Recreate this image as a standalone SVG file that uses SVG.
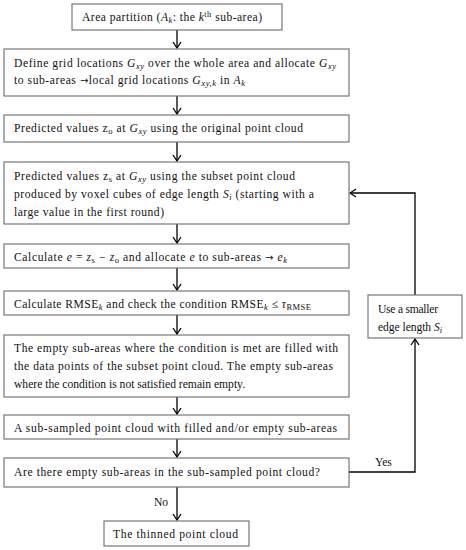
<svg xmlns="http://www.w3.org/2000/svg" width="466" height="550" viewBox="0 0 466 550">
<style>
.box{fill:#fff;stroke:#6b6b6b;stroke-width:1.1}
.t{font-family:"Liberation Serif","Times New Roman",serif;font-size:11.6px;fill:#111}
.i{font-style:italic}
.s{font-size:8.5px}
.ar{font-family:"DejaVu Sans",sans-serif;font-size:10px}
.c{fill:none;stroke:#000;stroke-width:1.3}
</style>
<defs>
<marker id="ah" viewBox="0 0 8 10" refX="7" refY="5" markerWidth="8" markerHeight="10" markerUnits="userSpaceOnUse" orient="auto">
<path d="M1,1 L7,5 L1,9" fill="none" stroke="#000" stroke-width="1.3"/>
</marker>
</defs>
<rect width="466" height="550" fill="#fff"/>
<g id="connectors">
<path class="c" d="M177,30 V48" marker-end="url(#ah)"/>
<path class="c" d="M177,96 V114" marker-end="url(#ah)"/>
<path class="c" d="M177,142 V161" marker-end="url(#ah)"/>
<path class="c" d="M177,224 V243" marker-end="url(#ah)"/>
<path class="c" d="M177,268 V290" marker-end="url(#ah)"/>
<path class="c" d="M177,315 V334" marker-end="url(#ah)"/>
<path class="c" d="M177,397 V414" marker-end="url(#ah)"/>
<path class="c" d="M177,439 V457" marker-end="url(#ah)"/>
<path class="c" d="M177,487 V520" marker-end="url(#ah)"/>
<path class="c" d="M349,472 H415 V339" marker-end="url(#ah)"/>
<path class="c" d="M415,295 V193 H350" marker-end="url(#ah)"/>
<text class="t" x="375" y="466">Yes</text>
<text class="t" x="154" y="506">No</text>
</g>
<g id="n1">
<rect class="box" x="72" y="4" width="210" height="26"/>
<text class="t" x="82" y="21" textLength="180">Area partition (<tspan class="i">A</tspan><tspan class="i s" dy="2">k</tspan><tspan dy="-2">: the </tspan><tspan class="i">k</tspan><tspan class="s" dy="-4">th</tspan><tspan dy="4"> sub-area)</tspan></text>
</g>
<g id="n2">
<rect class="box" x="4" y="49" width="345" height="47"/>
<text class="t" x="14" y="67" textLength="322">Define grid locations  <tspan class="i">G</tspan><tspan class="i s" dy="2">xy</tspan><tspan dy="-2"> over the whole area and allocate </tspan><tspan class="i">G</tspan><tspan class="i s" dy="2">xy</tspan></text>
<text class="t" x="14" y="84" textLength="231">to sub-areas <tspan class="ar">→</tspan>local grid locations <tspan class="i">G</tspan><tspan class="i s" dy="2">xy,k</tspan><tspan dy="-2"> in </tspan><tspan class="i">A</tspan><tspan class="i s" dy="2">k</tspan></text>
</g>
<g id="n3">
<rect class="box" x="4" y="115" width="345" height="27"/>
<text class="t" x="14" y="132" textLength="289">Predicted values z<tspan class="s" dy="2">o</tspan><tspan dy="-2"> at </tspan><tspan class="i">G</tspan><tspan class="i s" dy="2">xy</tspan><tspan dy="-2"> using the original point cloud</tspan></text>
</g>
<g id="n4">
<rect class="box" x="4" y="162" width="345" height="62"/>
<text class="t" x="14" y="180" textLength="281">Predicted values z<tspan class="s" dy="2">s</tspan><tspan dy="-2"> at </tspan><tspan class="i">G</tspan><tspan class="i s" dy="2">xy</tspan><tspan dy="-2"> using the subset point cloud</tspan></text>
<text class="t" x="14" y="198" textLength="300">produced by voxel cubes of edge length <tspan class="i">S</tspan><tspan class="i s" dy="2">i</tspan><tspan dy="-2"> (starting with a</tspan></text>
<text class="t" x="14" y="216" textLength="150">large value in the first round)</text>
</g>
<g id="n5">
<rect class="box" x="4" y="244" width="345" height="24"/>
<text class="t" x="14" y="261" textLength="273">Calculate <tspan class="i">e</tspan> = <tspan class="i">z</tspan><tspan class="s" dy="2">s</tspan><tspan dy="-2"> − </tspan><tspan class="i">z</tspan><tspan class="s" dy="2">o</tspan><tspan dy="-2"> and allocate </tspan><tspan class="i">e</tspan> to sub-areas <tspan class="ar">→</tspan> <tspan class="i">e</tspan><tspan class="i s" dy="2">k</tspan></text>
</g>
<g id="n6">
<rect class="box" x="4" y="291" width="345" height="24"/>
<text class="t" x="14" y="308" textLength="297">Calculate RMSE<tspan class="i s" dy="2">k</tspan><tspan dy="-2"> and check the condition  RMSE</tspan><tspan class="i s" dy="2">k</tspan><tspan dy="-2"> ≤ </tspan><tspan class="i">τ</tspan><tspan class="s" dy="2">RMSE</tspan></text>
</g>
<g id="n7">
<rect class="box" x="4" y="335" width="345" height="62"/>
<text class="t" x="14" y="352" textLength="324">The empty sub-areas where the condition is met are filled with</text>
<text class="t" x="14" y="370" textLength="319">the data points of the subset point cloud. The empty sub-areas</text>
<text class="t" x="14" y="388">where the condition is not satisfied remain empty.</text>
</g>
<g id="n8">
<rect class="box" x="4" y="415" width="345" height="24"/>
<text class="t" x="14" y="432" textLength="323">A sub-sampled point cloud with filled and/or empty sub-areas</text>
</g>
<g id="n9">
<rect class="box" x="4" y="458" width="345" height="29"/>
<text class="t" x="14" y="476" textLength="306">Are there empty sub-areas in the sub-sampled point cloud?</text>
</g>
<g id="n10">
<rect class="box" x="104" y="521" width="145" height="25"/>
<text class="t" x="113" y="538" textLength="125">The thinned point cloud</text>
</g>
<g id="n11">
<rect class="box" x="368" y="295" width="94" height="43"/>
<text class="t" x="378" y="313" textLength="60">Use a smaller</text>
<text class="t" x="378" y="331" textLength="64">edge length <tspan class="i">S</tspan><tspan class="i s" dy="2">i</tspan></text>
</g>
</svg>
